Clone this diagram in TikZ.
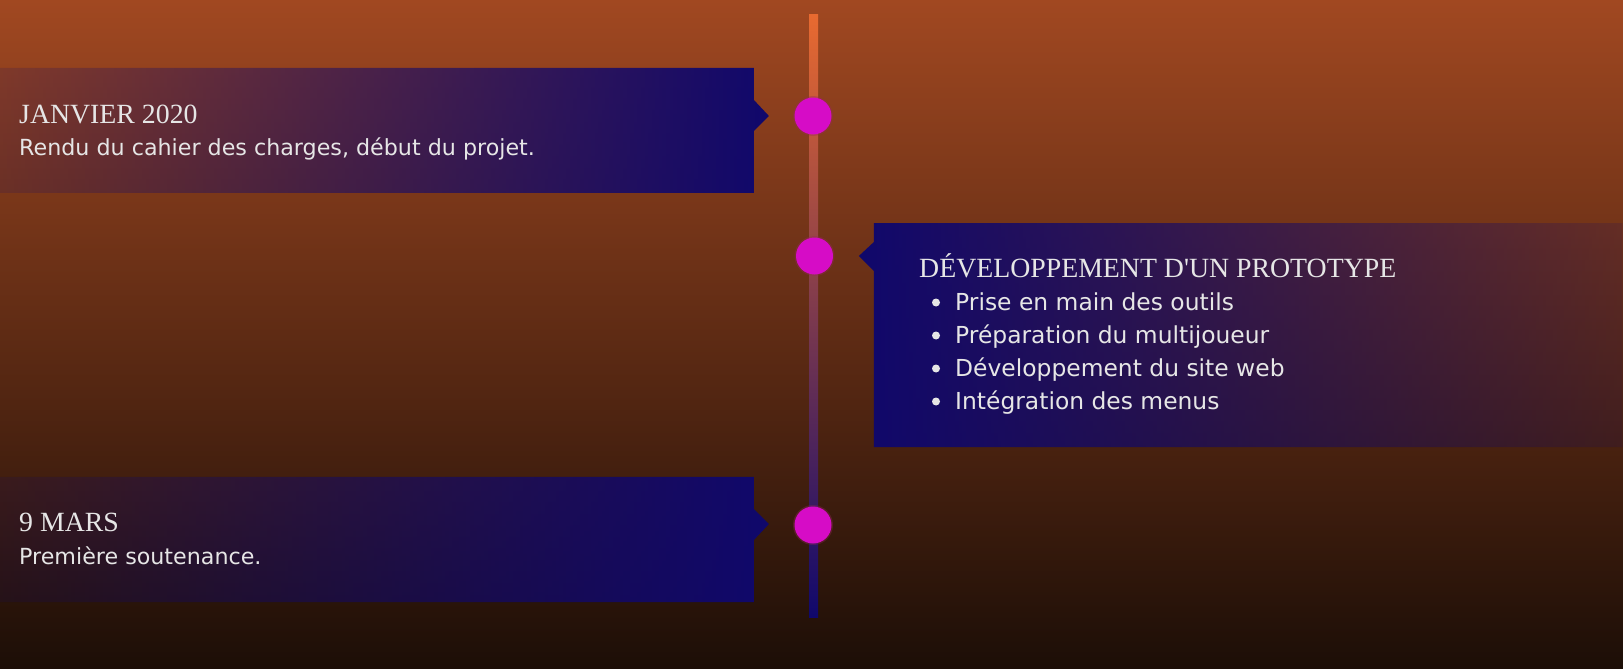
\documentclass[tikz,border=0pt]{standalone}
\usepackage{fontspec}
\newfontfamily\headfont{Liberation Serif}
\newfontfamily\bodyfont{DejaVu Sans}
\usetikzlibrary{fadings}

\definecolor{bgtop}{RGB}{161,72,33}
\definecolor{bgbot}{RGB}{28,14,7}
\definecolor{navy}{RGB}{16,8,108}
\definecolor{linetop}{RGB}{232,106,48}
\definecolor{dotcol}{RGB}{214,12,198}
\definecolor{dotedge}{RGB}{150,40,90}
\definecolor{txt}{RGB}{230,230,230}

% panels fade from solid navy near the axis to mostly transparent outside
\tikzfading[name=fadetoleft, left color=transparent!85, right color=transparent!0]
\tikzfading[name=fadetoright, left color=transparent!0, right color=transparent!85]

\tikzset{
  panel/.style={fill=navy, fit fading=true},
  milestone/.style={circle, fill=dotcol, minimum size=37pt, inner sep=0pt},
  heading/.style={anchor=base west, inner sep=0pt, text=txt, font=\headfont\fontsize{27.8}{30}\selectfont},
  body/.style={anchor=base west, inner sep=0pt, text=txt, font=\bodyfont\fontsize{22.2}{26}\selectfont},
  item/.style={body, font=\bodyfont\fontsize{23.4}{26}\selectfont},
  bullet/.style={circle, fill=txt, minimum size=8pt, inner sep=0pt}
}

\begin{document}
\begin{tikzpicture}[x=1pt,y=-1pt]
\useasboundingbox (0,0) rectangle (1623,669);

% backdrop
\shade[top color=bgtop, bottom color=bgbot] (0,0) rectangle (1623,669);

% time axis
\shade[top color=linetop, bottom color=navy] (809,15) rectangle (818,617);

% panel 1 (left)
\fill[panel, path fading=fadetoleft]
  (0,68) -- (754,68) -- (754,100) -- (769,116) -- (754,131) -- (754,193) -- (0,193) -- cycle;
% panel 2 (right)
\fill[panel, path fading=fadetoright]
  (874,223) -- (1623,223) -- (1623,447) -- (874,447) -- (874,271) -- (859,256) -- (874,242) -- cycle;
% panel 3 (left)
\fill[panel, path fading=fadetoleft]
  (0,477) -- (754,477) -- (754,509) -- (769,524) -- (754,540) -- (754,602) -- (0,602) -- cycle;

% milestones, with a faint halo
\foreach \p/\q in {813/116, 814.5/256, 813/525}
  \fill[dotedge, opacity=0.35] (\p,\q) circle (20);
\node[milestone] (m1) at (813,116) {};
\node[milestone] (m2) at (814.5,256) {};
\node[milestone] (m3) at (813,525) {};

% texts
\node[heading] (t1) at (19,123) {JANVIER 2020};
\node[body] (b1) at (19,155) {Rendu du cahier des charges, début du projet.};

\node[heading] (t2) at (919,277) {DÉVELOPPEMENT D'UN PROTOTYPE};
\node[bullet] (p1) at (936,302.5) {};
\node[item] (l1) at (955,310) {Prise en main des outils};
\node[bullet] (p2) at (936,335.5) {};
\node[item] (l2) at (955,343) {Préparation du multijoueur};
\node[bullet] (p3) at (936,368.5) {};
\node[item] (l3) at (955,376) {Développement du site web};
\node[bullet] (p4) at (936,401.5) {};
\node[item] (l4) at (955,409) {Intégration des menus};

\node[heading] (t3) at (19,531) {9 MARS};
\node[body] (b3) at (19,564) {Première soutenance.};
\end{tikzpicture}
\end{document}
